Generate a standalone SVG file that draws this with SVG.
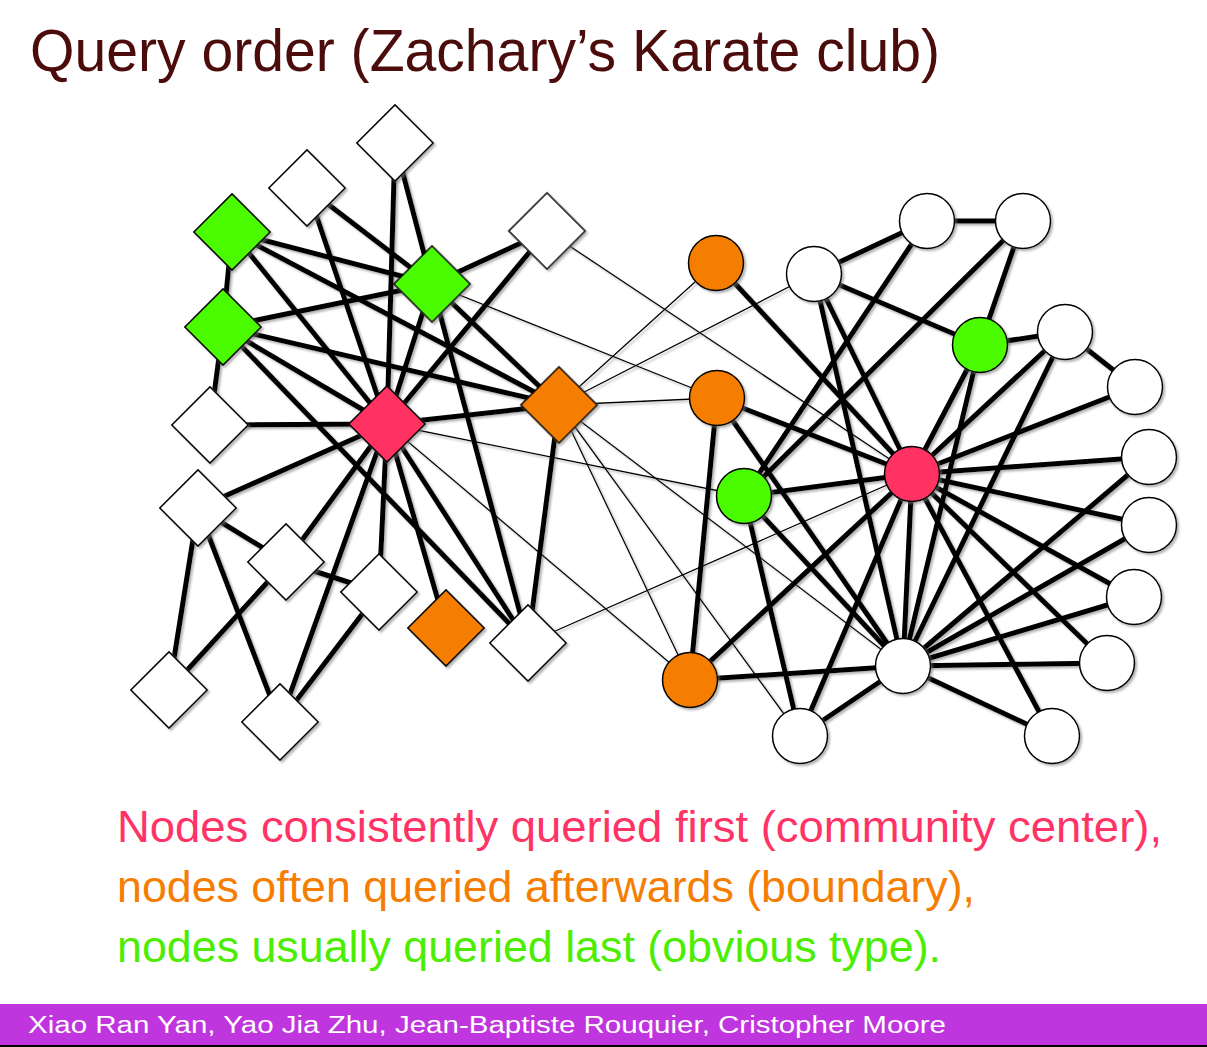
<svg xmlns="http://www.w3.org/2000/svg" width="1207" height="1047" viewBox="0 0 1207 1047">
<defs>
<filter id="sh" x="-10%" y="-10%" width="120%" height="120%">
<feDropShadow dx="2" dy="2" stdDeviation="1" flood-color="#777" flood-opacity="0.55"/>
</filter>
<rect id="dia" x="-27" y="-27" width="54" height="54" transform="rotate(45)"/>
</defs>
<style>
.e{stroke:#000;stroke-width:5;fill:none;stroke-linecap:butt}
.t{stroke:#000;stroke-width:1.3;fill:none}
.n{stroke:#000;stroke-width:1.5}
.w{fill:#fff}.r{fill:#FF3162}.o{fill:#F57E02}.g{fill:#4BFC00}
text{font-family:"Liberation Sans",Arial,sans-serif}
</style>
<rect width="1207" height="1047" fill="#fff"/>
<text x="30" y="71" font-size="60" fill="#4D0C0C" textLength="910" lengthAdjust="spacingAndGlyphs">Query order (Zachary’s Karate club)</text>
<g id="connectors" filter="url(#sh)">
<g class="e">
<line x1="387" y1="424" x2="432" y2="284"/>
<line x1="387" y1="424" x2="559" y2="405"/>
<line x1="387" y1="424" x2="223" y2="327"/>
<line x1="387" y1="424" x2="379" y2="592"/>
<line x1="387" y1="424" x2="198" y2="508"/>
<line x1="387" y1="424" x2="286" y2="562"/>
<line x1="387" y1="424" x2="232" y2="232"/>
<line x1="387" y1="424" x2="280" y2="722"/>
<line x1="387" y1="424" x2="446" y2="628"/>
<line x1="387" y1="424" x2="210" y2="425"/>
<line x1="387" y1="424" x2="528" y2="643"/>
<line x1="387" y1="424" x2="395" y2="143"/>
<line x1="387" y1="424" x2="547" y2="231"/>
<line x1="387" y1="424" x2="307" y2="188"/>
<line x1="432" y1="284" x2="559" y2="405"/>
<line x1="432" y1="284" x2="223" y2="327"/>
<line x1="432" y1="284" x2="232" y2="232"/>
<line x1="432" y1="284" x2="528" y2="643"/>
<line x1="432" y1="284" x2="395" y2="143"/>
<line x1="432" y1="284" x2="547" y2="231"/>
<line x1="432" y1="284" x2="307" y2="188"/>
<line x1="559" y1="405" x2="223" y2="327"/>
<line x1="559" y1="405" x2="232" y2="232"/>
<line x1="559" y1="405" x2="528" y2="643"/>
<line x1="223" y1="327" x2="232" y2="232"/>
<line x1="223" y1="327" x2="210" y2="425"/>
<line x1="223" y1="327" x2="528" y2="643"/>
<line x1="379" y1="592" x2="286" y2="562"/>
<line x1="379" y1="592" x2="280" y2="722"/>
<line x1="198" y1="508" x2="286" y2="562"/>
<line x1="198" y1="508" x2="280" y2="722"/>
<line x1="198" y1="508" x2="169" y2="690"/>
<line x1="286" y1="562" x2="169" y2="690"/>
<line x1="690" y1="680" x2="717" y2="398"/>
<line x1="690" y1="680" x2="903" y2="666"/>
<line x1="690" y1="680" x2="912" y2="474"/>
<line x1="716" y1="263" x2="912" y2="474"/>
<line x1="1149" y1="457" x2="903" y2="666"/>
<line x1="1149" y1="457" x2="912" y2="474"/>
<line x1="1149" y1="525" x2="903" y2="666"/>
<line x1="1149" y1="525" x2="912" y2="474"/>
<line x1="1134" y1="597" x2="903" y2="666"/>
<line x1="1134" y1="597" x2="912" y2="474"/>
<line x1="1107" y1="663" x2="903" y2="666"/>
<line x1="1107" y1="663" x2="912" y2="474"/>
<line x1="1052" y1="736" x2="903" y2="666"/>
<line x1="1052" y1="736" x2="912" y2="474"/>
<line x1="980" y1="345" x2="1023" y2="221"/>
<line x1="980" y1="345" x2="814" y2="274"/>
<line x1="980" y1="345" x2="1065" y2="332"/>
<line x1="980" y1="345" x2="903" y2="666"/>
<line x1="980" y1="345" x2="912" y2="474"/>
<line x1="927" y1="221" x2="1023" y2="221"/>
<line x1="927" y1="221" x2="814" y2="274"/>
<line x1="927" y1="221" x2="744" y2="496"/>
<line x1="1023" y1="221" x2="744" y2="496"/>
<line x1="1135" y1="387" x2="1065" y2="332"/>
<line x1="1135" y1="387" x2="912" y2="474"/>
<line x1="814" y1="274" x2="912" y2="474"/>
<line x1="814" y1="274" x2="903" y2="666"/>
<line x1="800" y1="736" x2="744" y2="496"/>
<line x1="800" y1="736" x2="912" y2="474"/>
<line x1="800" y1="736" x2="903" y2="666"/>
<line x1="1065" y1="332" x2="903" y2="666"/>
<line x1="1065" y1="332" x2="912" y2="474"/>
<line x1="717" y1="398" x2="903" y2="666"/>
<line x1="717" y1="398" x2="912" y2="474"/>
<line x1="744" y1="496" x2="903" y2="666"/>
<line x1="744" y1="496" x2="912" y2="474"/>
<line x1="903" y1="666" x2="912" y2="474"/>
</g>
<g class="t">
<line x1="387" y1="424" x2="690" y2="680"/>
<line x1="387" y1="424" x2="744" y2="496"/>
<line x1="432" y1="284" x2="717" y2="398"/>
<line x1="559" y1="405" x2="690" y2="680"/>
<line x1="559" y1="405" x2="716" y2="263"/>
<line x1="559" y1="405" x2="814" y2="274"/>
<line x1="559" y1="405" x2="800" y2="736"/>
<line x1="559" y1="405" x2="903" y2="666"/>
<line x1="559" y1="405" x2="717" y2="398"/>
<line x1="528" y1="643" x2="912" y2="474"/>
<line x1="547" y1="231" x2="912" y2="474"/>
</g>
</g>
<g filter="url(#sh)">
<g id="n1" class="n r"><use href="#dia" x="387" y="424"/></g>
<g id="n2" class="n g"><use href="#dia" x="432" y="284"/></g>
<g id="n3" class="n o"><use href="#dia" x="559" y="405"/></g>
<g id="n4" class="n g"><use href="#dia" x="223" y="327"/></g>
<g id="n5" class="n w"><use href="#dia" x="379" y="592"/></g>
<g id="n6" class="n w"><use href="#dia" x="198" y="508"/></g>
<g id="n7" class="n w"><use href="#dia" x="286" y="562"/></g>
<g id="n8" class="n g"><use href="#dia" x="232" y="232"/></g>
<g id="n11" class="n w"><use href="#dia" x="280" y="722"/></g>
<g id="n12" class="n o"><use href="#dia" x="446" y="628"/></g>
<g id="n13" class="n w"><use href="#dia" x="210" y="425"/></g>
<g id="n14" class="n w"><use href="#dia" x="528" y="643"/></g>
<g id="n17" class="n w"><use href="#dia" x="169" y="690"/></g>
<g id="n18" class="n w"><use href="#dia" x="395" y="143"/></g>
<g id="n20" class="n w"><use href="#dia" x="547" y="231"/></g>
<g id="n22" class="n w"><use href="#dia" x="307" y="188"/></g>
<g id="n9" class="n o"><circle cx="690" cy="680" r="27.5"/></g>
<g id="n10" class="n o"><circle cx="716" cy="263" r="27.5"/></g>
<g id="n15" class="n w"><circle cx="1149" cy="457" r="27.5"/></g>
<g id="n16" class="n w"><circle cx="1149" cy="525" r="27.5"/></g>
<g id="n19" class="n w"><circle cx="1134" cy="597" r="27.5"/></g>
<g id="n21" class="n w"><circle cx="1107" cy="663" r="27.5"/></g>
<g id="n23" class="n w"><circle cx="1052" cy="736" r="27.5"/></g>
<g id="n24" class="n g"><circle cx="980" cy="345" r="27.5"/></g>
<g id="n25" class="n w"><circle cx="927" cy="221" r="27.5"/></g>
<g id="n26" class="n w"><circle cx="1023" cy="221" r="27.5"/></g>
<g id="n27" class="n w"><circle cx="1135" cy="387" r="27.5"/></g>
<g id="n28" class="n w"><circle cx="814" cy="274" r="27.5"/></g>
<g id="n29" class="n w"><circle cx="800" cy="736" r="27.5"/></g>
<g id="n30" class="n w"><circle cx="1065" cy="332" r="27.5"/></g>
<g id="n31" class="n o"><circle cx="717" cy="398" r="27.5"/></g>
<g id="n32" class="n g"><circle cx="744" cy="496" r="27.5"/></g>
<g id="n33" class="n w"><circle cx="903" cy="666" r="27.5"/></g>
<g id="n34" class="n r"><circle cx="912" cy="474" r="27.5"/></g>
</g>
<text x="117" y="842" font-size="44" fill="#FF3366" textLength="1045" lengthAdjust="spacingAndGlyphs">Nodes consistently queried first (community center),</text>
<text x="117" y="902" font-size="44" fill="#F57E02" textLength="858" lengthAdjust="spacingAndGlyphs">nodes often queried afterwards (boundary),</text>
<text x="117" y="962" font-size="44" fill="#4BEE00" textLength="824" lengthAdjust="spacingAndGlyphs">nodes usually queried last (obvious type).</text>
<rect x="0" y="1004" width="1207" height="41" fill="#C036DE"/>
<rect x="0" y="1045" width="1207" height="2" fill="#000"/>
<text x="28" y="1033" font-size="23" fill="#fff" textLength="918" lengthAdjust="spacingAndGlyphs">Xiao Ran Yan, Yao Jia Zhu, Jean-Baptiste Rouquier, Cristopher Moore</text>
</svg>
